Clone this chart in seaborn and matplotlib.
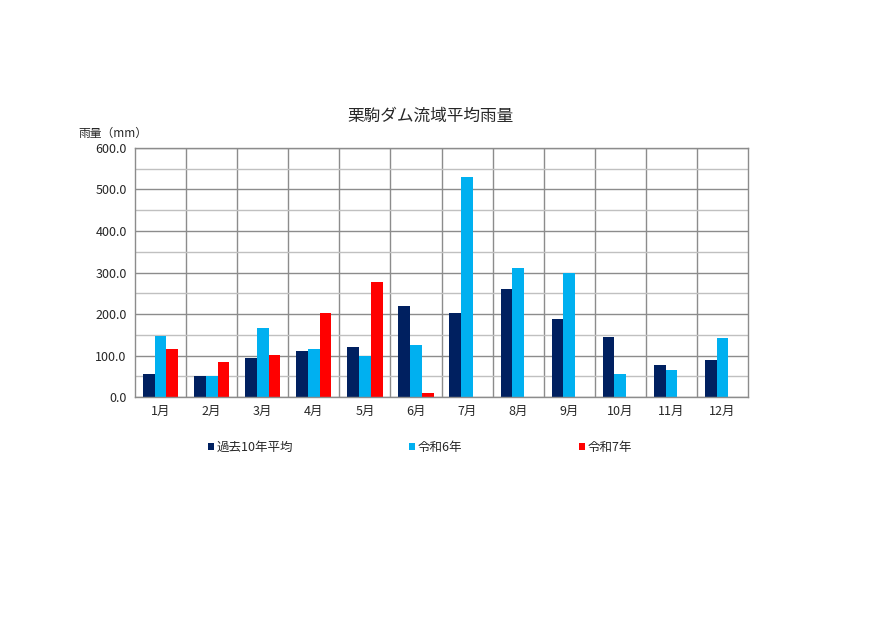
import numpy as np
import pandas as pd
import matplotlib
matplotlib.use("Agg")
import matplotlib.pyplot as plt
import seaborn as sns
from matplotlib.ticker import MultipleLocator, FormatStrFormatter

sns.set_style("white")
plt.rcParams['font.family'] = ['Noto Sans CJK JP', 'DejaVu Sans']

# データ
months = ['1月', '2月', '3月', '4月', '5月', '6月', '7月', '8月', '9月', '10月', '11月', '12月']
avg10 = [55, 50, 95, 111, 120, 220, 203, 260, 187, 144, 78, 89]
r6 = [148, 50, 166, 116, 100, 125, 530, 310, 300, 55, 66, 142]
r7 = [116, 85, 101, 202, 277, 10, np.nan, np.nan, np.nan, np.nan, np.nan, np.nan]
series = ['過去10年平均', '令和6年', '令和7年']
colors = ['#002060', '#00B0F0', '#FF0000']

df = pd.DataFrame({'月': months, series[0]: avg10, series[1]: r6, series[2]: r7})
df = df.melt(id_vars='月', var_name='系列', value_name='雨量')

fig = plt.figure(figsize=(8.9, 6.3), dpi=100)
ax = fig.add_axes([0.1517, 0.3698, 0.6888, 0.3953])

sns.barplot(data=df, x='月', y='雨量', hue='系列', order=months, hue_order=series,
            palette=colors, width=0.69, errorbar=None, saturation=1,
            linewidth=0, ax=ax)

ax.set_ylim(0, 600)
ax.set_xlim(-0.5, 11.5)
ax.yaxis.set_major_locator(MultipleLocator(100))
ax.yaxis.set_minor_locator(MultipleLocator(50))
ax.yaxis.set_major_formatter(FormatStrFormatter('%.1f'))
ax.grid(axis='y', which='major', color='#8c8c8c', linewidth=1.0)
ax.grid(axis='y', which='minor', color='#c0c0c0', linewidth=1.0)
for xb in np.arange(0.5, 11.5, 1):
    ax.axvline(xb, color='#8c8c8c', linewidth=1.0, zorder=0)
ax.set_axisbelow(True)
for s in ax.spines.values():
    s.set_color('#8c8c8c')
    s.set_linewidth(1.0)
ax.tick_params(axis='both', length=0, labelsize=9, pad=6)
ax.set_xlabel('')
ax.set_ylabel('')

fig.text(0.484, 0.815, '栗駒ダム流域平均雨量', ha='center', va='center', fontsize=12)
fig.text(0.088, 0.789, '雨量（mm）', ha='left', va='center', fontsize=8.5)

handles, labels = ax.get_legend_handles_labels()
ax.legend(handles, labels, loc='upper left', bbox_to_anchor=(0.1, -0.13), ncol=3,
          frameon=False, handlelength=0.5, handleheight=0.5, handletextpad=0.2,
          columnspacing=9.3, fontsize=9)

fig.savefig('out.png', dpi=100)
